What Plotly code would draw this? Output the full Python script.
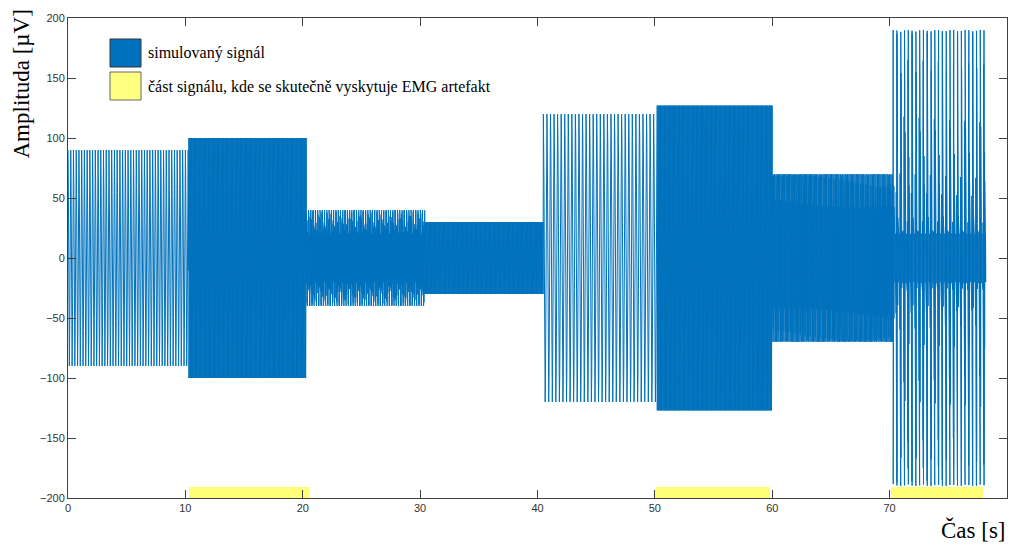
import numpy as np
import plotly.graph_objects as go

# Simulated signal, sampled at fs. Each segment is built from
#  - a component at the Nyquist frequency (fs/2),
#  - a lower-frequency sinusoid,
#  - a train of short Nyquist-rate bursts (the last segment only).
fs = 200.0
seg_start = [0.0, 10.3, 20.3, 30.4, 40.5, 50.2, 60.0, 70.3]
seg_end = [10.3, 20.3, 30.4, 40.5, 50.2, 60.0, 70.3, 78.2]
seg_nyq_amp = [0, 100, 30, 30, 0, 127, 56, 20]       # amplitude at fs/2
seg_amp = [90, 0, 10, 0, 120, 0, 14, 0]               # sinusoid amplitude
seg_freq = [4.3, 0.0, 5.15, 0.0, 3.3, 0.0, 9.5, 0.0]  # sinusoid frequency [Hz]
seg_burst_amp = [0, 0, 0, 0, 0, 0, 0, 170]            # burst amplitude
seg_burst_rate = [0, 0, 0, 0, 0, 0, 0, 3.1]           # bursts per second
burst_sharpness = 8

# Intervals where the EMG artefact actually occurs
artefact_start = [10.35, 50.0, 70.1]
artefact_end = [20.5, 59.8, 77.95]

x_ticks = list(range(0, 81, 10))
y_ticks = list(range(-200, 201, 50))

BLUE = "#0072BD"
YELLOW = "#FFFF77"
AXIS = "#404040"

t_parts, s_parts = [], []
for a, b, an, amp, f, ba, br in zip(seg_start, seg_end, seg_nyq_amp, seg_amp,
                                    seg_freq, seg_burst_amp, seg_burst_rate):
    n0 = int(round(a * fs))
    n1 = int(round(b * fs))
    k = np.arange(n1 - n0)
    tk = k / fs
    alt = np.cos(np.pi * k)
    seg = (an * alt
           + amp * np.cos(2 * np.pi * f * tk)
           + ba * alt * np.abs(np.cos(np.pi * br * tk)) ** burst_sharpness)
    t_parts.append((n0 + k) / fs)
    s_parts.append(seg)
t = np.concatenate(t_parts)
s = np.concatenate(s_parts)

fig = go.Figure()

fig.add_trace(go.Scatter(
    x=t, y=s, mode="lines",
    line=dict(color=BLUE, width=1.0),
    showlegend=False, hoverinfo="skip",
))

widths = [e - b for b, e in zip(artefact_start, artefact_end)]
centers = [(b + e) / 2 for b, e in zip(artefact_start, artefact_end)]
fig.add_trace(go.Bar(
    x=centers, y=[9] * len(centers), base=-200, width=widths,
    marker=dict(color=YELLOW, line=dict(width=0)),
    showlegend=False, hoverinfo="skip",
))

# Plot area geometry (pixels)
L, R, T, B = 68, 1007, 18, 498
W, H = R - L, B - T


def px(x):
    return (x - L) / W


def py(y):
    return (B - y) / H


shapes = [
    dict(type="rect", xref="paper", yref="paper",
         x0=px(110), x1=px(141), y0=py(67), y1=py(39),
         fillcolor=BLUE, line=dict(color="#333333", width=1)),
    dict(type="rect", xref="paper", yref="paper",
         x0=px(110), x1=px(141), y0=py(100), y1=py(72),
         fillcolor="#FFFF80", line=dict(color="#666666", width=1)),
]

annotations = [
    dict(text="simulovaný signál", xref="paper", yref="paper",
         x=px(146), y=py(53), xanchor="left", yanchor="middle",
         showarrow=False,
         font=dict(family="Liberation Serif", size=16, color="black")),
    dict(text="část signálu, kde se skutečně vyskytuje EMG artefakt",
         xref="paper", yref="paper",
         x=px(146), y=py(87), xanchor="left", yanchor="middle",
         showarrow=False,
         font=dict(family="Liberation Serif", size=16, color="black")),
    dict(text="Amplituda [µV]", xref="paper", yref="paper",
         x=px(21), y=py(8), xanchor="center", yanchor="top",
         textangle=-90, showarrow=False,
         font=dict(family="Liberation Serif", size=23, color="black")),
    dict(text="Čas [s]", xref="paper", yref="paper",
         x=px(1008), y=py(530), xanchor="right", yanchor="middle",
         showarrow=False,
         font=dict(family="Liberation Serif", size=23, color="black")),
]

axis_common = dict(
    showgrid=False, zeroline=False,
    showline=True, linecolor=AXIS, linewidth=1, mirror="ticks",
    ticks="inside", ticklen=8, tickcolor=AXIS, tickwidth=1,
    tickfont=dict(family="Liberation Sans", size=11, color="#333333"),
)

fig.update_layout(
    width=1013, height=545,
    margin=dict(l=L, r=1013 - R, t=T, b=545 - B),
    paper_bgcolor="white", plot_bgcolor="white",
    showlegend=False, bargap=0,
    xaxis=dict(range=[0, 80], tickvals=x_ticks, **axis_common),
    yaxis=dict(range=[-200, 200], tickvals=y_ticks, **axis_common),
    shapes=shapes, annotations=annotations,
)

fig.write_html("out.html")
